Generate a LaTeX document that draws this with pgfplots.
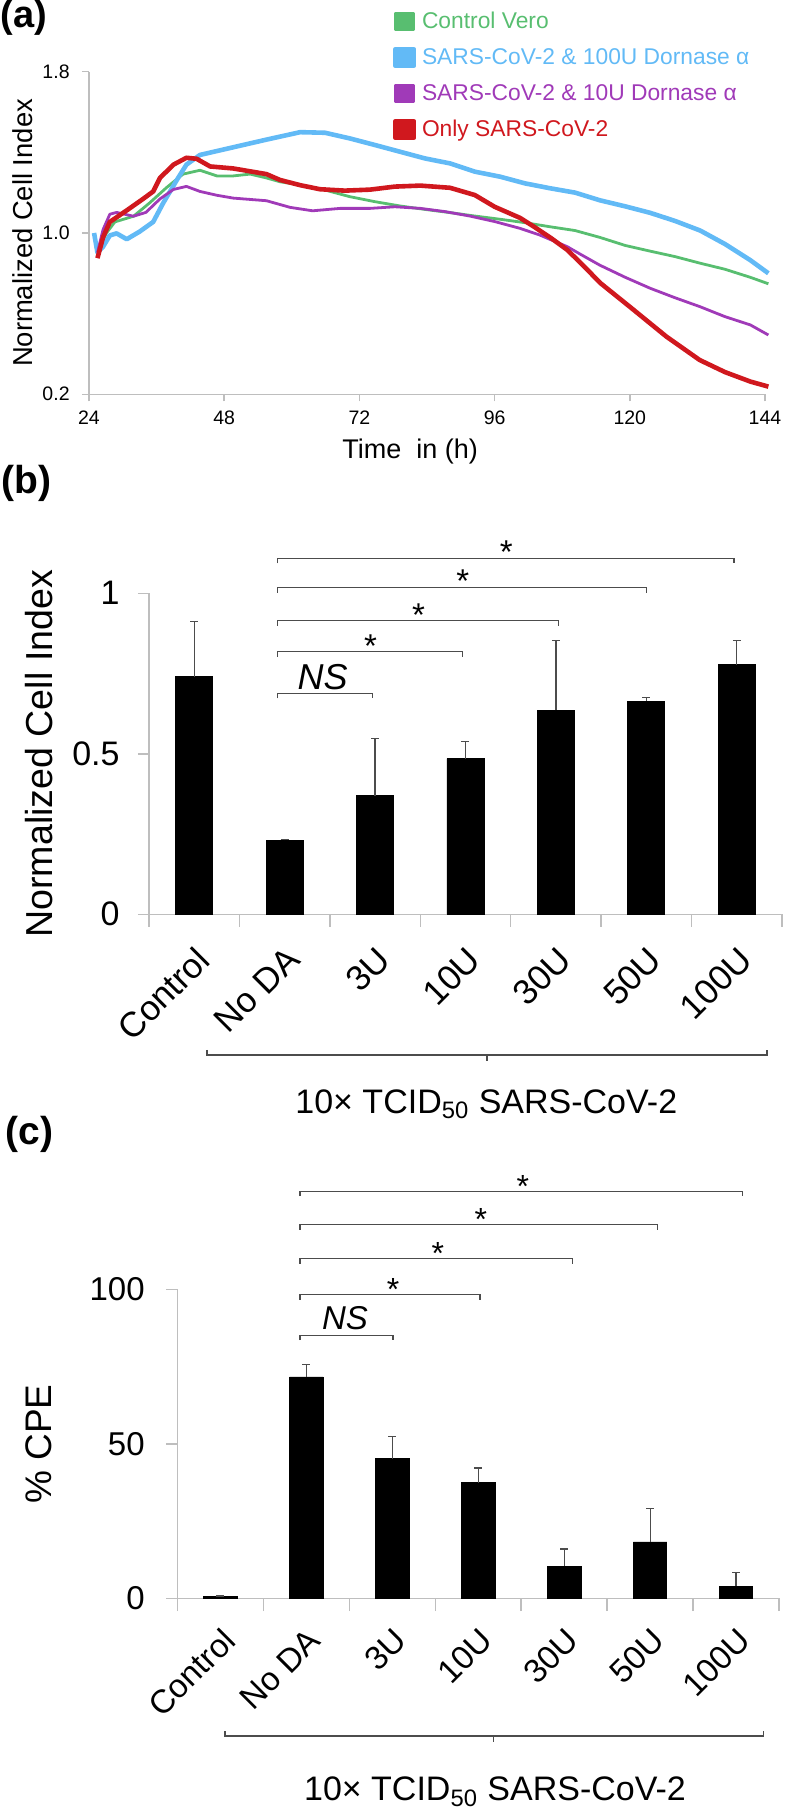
\documentclass[border=0pt]{standalone}
\usepackage{fontspec}
\setmainfont{Liberation Sans}
\usepackage{pgfplots}
\pgfplotsset{compat=1.18}

\definecolor{cgreen}{RGB}{88,190,112}
\definecolor{cblue}{RGB}{98,186,246}
\definecolor{cpurple}{RGB}{160,58,184}
\definecolor{cred}{RGB}{208,24,30}
\definecolor{axgray}{RGB}{190,190,190}

\newcommand{\fs}[1]{\fontsize{#1}{#1}\selectfont}
\newcommand{\lstrut}{\rule[-2.5pt]{0pt}{11pt}}

\pgfplotsset{
  base/.style={scale only axis, axis x line*=bottom, axis y line*=left,
    axis line style={axgray, line width=0.75pt},
    tick style={axgray, line width=0.75pt}, tick align=outside,
    /pgf/number format/assume math mode=true},
  bars/.style={base, clip=false, xmin=-0.5, xmax=6.5,
    xtick={0,...,6}, xticklabels={Control,No DA,3U,10U,30U,50U,100U},
    minor xtick={-0.5,0.5,...,6.5},
    major x tick style={draw=none},
    minor tick length=6.3pt, major tick length=5.6pt,
    xticklabel style={rotate=45, anchor=north east, inner sep=0pt},
    yticklabel style={anchor=east, inner sep=0pt},
    ylabel style={anchor=south, inner sep=0pt}},
}
\tikzset{brk/.style={draw=black!70, line width=0.7pt}}

\begin{document}
\begin{tikzpicture}
\path[use as bounding box] (0,0) rectangle (392pt,904pt);

% panel letters
\node[anchor=north west, inner sep=0pt, font=\fs{19}\bfseries] at (0pt,904pt) {(a)};
\node[anchor=west, inner sep=0pt, font=\fs{19.5}\bfseries] at (0.5pt,662.3pt) {(b)};
\node[anchor=west, inner sep=0pt, font=\fs{19.5}\bfseries] at (2.5pt,337pt) {(c)};

% (a) real-time cell index
\begin{axis}[base, at={(44.5pt,706.85pt)}, anchor=south west,
  width=338pt, height=161.3pt,
  xmin=24, xmax=144, ymin=0.2, ymax=1.8, clip=false,
  xtick={24,48,...,144}, ytick={0.2,1.0,1.8},
  major tick length=3.5pt,
  ticklabel style={font=\fs{9.75}},
  yticklabel={\pgfmathprintnumber[fixed,fixed zerofill,precision=1]{\tick}},
  yticklabel style={anchor=east, inner sep=0pt}, yticklabel shift=6pt,
  xticklabel style={anchor=north, inner sep=0pt}, xticklabel shift=4.5pt,
  xlabel={Time~ in (h)},
  xlabel style={at={(axis description cs:0.475,-0.2006)}, anchor=base, font=\fs{13.5}},
  ylabel={Normalized Cell Index},
  ylabel style={at={(axis description cs:-0.0828,0.5)}, anchor=south, inner sep=0pt, font=\fs{13.7}},
  legend style={draw=none, fill=none, at={(0.4497,1.1878)}, anchor=north west,
    inner sep=0pt, font=\fs{11.4}, row sep=7.6pt,
    nodes={inner sep=0pt},
    /tikz/every odd column/.append style={column sep=3pt}},
  legend cell align=left,
  legend image code/.code={\fill (0pt,-4.25pt) rectangle (9pt,4.25pt);},
]
\addplot[cgreen, line width=1.4pt, line join=round] coordinates {
(25.5,0.903) (27.1,1.0) (28.6,1.055) (31.9,1.083) (34.8,1.15) (37.8,1.226)
(40.7,1.292) (43.7,1.311) (46.7,1.283) (49.6,1.283) (52.6,1.292) (55.5,1.273)
(57.9,1.254) (61.5,1.238) (65.9,1.213) (70.3,1.18) (74.8,1.155) (79.2,1.134)
(83.6,1.117) (88.1,1.101) (92.5,1.084) (97,1.068) (101.4,1.051) (105.8,1.031)
(110.3,1.012) (114.7,0.978) (119.2,0.938) (123.6,0.91) (128,0.883)
(132.5,0.85) (136.9,0.82) (141.4,0.78) (144.6,0.748)};
\addlegendentry{\textcolor{cgreen}{Control Vero\lstrut}}
\addplot[cblue, line width=2.3pt, line join=round] coordinates {
(24.9,1.0) (25.5,0.903) (26.5,0.932) (27.7,0.988) (28.9,0.998) (30.7,0.969)
(33,1.007) (35.4,1.055) (37.2,1.15) (39.6,1.263) (41.3,1.339) (43.7,1.387)
(49.6,1.425) (55.5,1.463) (61.5,1.5) (65.9,1.497) (70.3,1.469) (74.8,1.436)
(79.2,1.403) (83.6,1.37) (88.1,1.345) (92.5,1.304) (97,1.279) (101.4,1.246)
(105.8,1.222) (110.3,1.2) (114.7,1.162) (119.2,1.132) (123.6,1.1)
(128,1.06) (132.5,1.012) (136.9,0.945) (141.4,0.865) (144.6,0.80)};
\addlegendentry{\textcolor{cblue}{SARS-CoV-2 \& 100U Dornase α\lstrut}}
\addplot[cpurple, line width=1.4pt, line join=round] coordinates {
(25.5,0.903) (26.5,1.017) (27.7,1.093) (28.9,1.102) (31.9,1.083) (34.1,1.102)
(36.6,1.169) (39,1.216) (41.3,1.231) (43.7,1.206) (46.7,1.187) (49.6,1.173)
(55.5,1.16) (59.7,1.127) (63.7,1.11) (68.6,1.122) (73.9,1.122) (78.3,1.13)
(82.8,1.122) (87.2,1.106) (91.6,1.084) (96.1,1.056) (100.5,1.023) (104,0.99)
(108.9,0.932) (111.2,0.895) (114.7,0.84) (119.2,0.78) (123.6,0.726)
(128,0.679) (132.5,0.634) (136.9,0.585) (141.4,0.544) (144.6,0.494)};
\addlegendentry{\textcolor{cpurple}{SARS-CoV-2 \& 10U Dornase α\lstrut}}
\addplot[cred, line width=2.3pt, line join=round] coordinates {
(25.5,0.875) (26.5,0.979) (27.7,1.055) (30.7,1.112) (33.6,1.169) (35.4,1.206)
(36.6,1.273) (39,1.339) (41.3,1.373) (43.1,1.368) (45.5,1.33) (49.6,1.32)
(55.5,1.292) (57.9,1.263) (61.5,1.237) (65,1.217) (69.4,1.21) (73.9,1.215)
(78.3,1.23) (82.8,1.235) (88.1,1.224) (92.5,1.188) (96,1.13) (100.5,1.075)
(103,1.031) (106,0.975) (108.9,0.916) (111.5,0.845) (114.8,0.751) (120,0.634)
(126.5,0.486) (132.4,0.37) (136.9,0.31) (141.4,0.263) (144.6,0.238)};
\addlegendentry{\textcolor{cred}{Only SARS-CoV-2\lstrut}}
\end{axis}

% (b) normalized cell index, bars
\begin{axis}[bars, at={(74.5pt,446.85pt)}, anchor=south west,
  width=316.5pt, height=160.5pt, ymin=0, ymax=1, ytick={0,0.5,1},
  yticklabel style={font=\fs{17}}, yticklabel shift=8.9pt,
  xticklabel style={font=\fs{17.5}}, xticklabel shift=9.4pt,
  ylabel={Normalized Cell Index},
  ylabel style={at={(axis description cs:-0.1517,0.5)}, font=\fs{18.8}},
]
\addplot[ybar, bar width=0.41, fill=black, draw=black,
  error bars/.cd, y dir=plus, y explicit,
  error bar style={black!70, line width=0.6pt},
  error mark options={rotate=90, black!70, mark size=2pt, line width=0.6pt}]
  coordinates {
  (0,0.740) +- (0,0.172)
  (1,0.231) +- (0,0.002)
  (2,0.369) +- (0,0.178)
  (3,0.485) +- (0,0.054)
  (4,0.636) +- (0,0.218)
  (5,0.664) +- (0,0.011)
  (6,0.777) +- (0,0.075)};
\draw[brk] (axis cs:0.921,0.688) ++(0pt,-2.5pt) -- (axis cs:0.921,0.688) -- (axis cs:1.97,0.688) -- ++(0pt,-2.5pt);
\draw[brk] (axis cs:0.921,0.818) ++(0pt,-2.5pt) -- (axis cs:0.921,0.818) -- (axis cs:2.967,0.818) -- ++(0pt,-2.5pt);
\draw[brk] (axis cs:0.921,0.915) ++(0pt,-2.5pt) -- (axis cs:0.921,0.915) -- (axis cs:4.03,0.915) -- ++(0pt,-2.5pt);
\draw[brk] (axis cs:0.921,1.018) ++(0pt,-2.5pt) -- (axis cs:0.921,1.018) -- (axis cs:5.0,1.018) -- ++(0pt,-2.5pt);
\draw[brk] (axis cs:0.921,1.109) ++(0pt,-2.5pt) -- (axis cs:0.921,1.109) -- (axis cs:5.97,1.109) -- ++(0pt,-2.5pt);
\node[anchor=base, inner sep=0pt, font=\fs{18}\itshape] at (axis cs:1.42,0.700) {NS};
\node[anchor=base, inner sep=0pt, font=\fs{16.5}] at (axis cs:1.95,0.801) {*};
\node[anchor=base, inner sep=0pt, font=\fs{16.5}] at (axis cs:2.48,0.898) {*};
\node[anchor=base, inner sep=0pt, font=\fs{16.5}] at (axis cs:2.97,1.001) {*};
\node[anchor=base, inner sep=0pt, font=\fs{16.5}] at (axis cs:3.45,1.092) {*};
\draw[brk] (axis cs:0.141,-0.438) ++(0pt,2.5pt) -- (axis cs:0.141,-0.438) -- (axis cs:6.334,-0.438) -- ++(0pt,2.5pt);
\draw[brk] (axis cs:3.238,-0.438) -- ++(0pt,-3pt);
\node[anchor=base, inner sep=0pt, font=\fs{17}] at (axis cs:3.23,-0.620) {10× TCID\textsubscript{50} SARS-CoV-2};
\end{axis}

% (c) percent CPE, bars
\begin{axis}[bars, at={(88.75pt,104.75pt)}, anchor=south west,
  width=300.75pt, height=154.5pt, ymin=0, ymax=100, ytick={0,50,100},
  yticklabel style={font=\fs{16.5}}, yticklabel shift=10.6pt,
  xticklabel style={font=\fs{16.5}}, xticklabel shift=8.15pt,
  ylabel={\% CPE},
  ylabel style={at={(axis description cs:-0.2087,0.5)}, font=\fs{18.5}},
]
\addplot[ybar, bar width=0.39, fill=black, draw=black,
  error bars/.cd, y dir=plus, y explicit,
  error bar style={black!70, line width=0.6pt},
  error mark options={rotate=90, black!70, mark size=2pt, line width=0.6pt}]
  coordinates {
  (0,0.8) +- (0,0)
  (1,71.7) +- (0,4.1)
  (2,45.2) +- (0,7.1)
  (3,37.5) +- (0,4.7)
  (4,10.5) +- (0,5.5)
  (5,18.3) +- (0,10.9)
  (6,4.0) +- (0,4.3)};
\draw[brk] (axis cs:0.926,85.2) ++(0pt,-2.5pt) -- (axis cs:0.926,85.2) -- (axis cs:2.008,85.2) -- ++(0pt,-2.5pt);
\draw[brk] (axis cs:0.926,98.3) ++(0pt,-2.5pt) -- (axis cs:0.926,98.3) -- (axis cs:3.02,98.3) -- ++(0pt,-2.5pt);
\draw[brk] (axis cs:0.926,110) ++(0pt,-2.5pt) -- (axis cs:0.926,110) -- (axis cs:4.097,110) -- ++(0pt,-2.5pt);
\draw[brk] (axis cs:0.926,121) ++(0pt,-2.5pt) -- (axis cs:0.926,121) -- (axis cs:5.086,121) -- ++(0pt,-2.5pt);
\draw[brk] (axis cs:0.926,131.8) ++(0pt,-2.5pt) -- (axis cs:0.926,131.8) -- (axis cs:6.075,131.8) -- ++(0pt,-2.5pt);
\node[anchor=base, inner sep=0pt, font=\fs{16.5}\itshape] at (axis cs:1.45,86.9) {NS};
\node[anchor=base, inner sep=0pt, font=\fs{16}] at (axis cs:2.01,96.4) {*};
\node[anchor=base, inner sep=0pt, font=\fs{16}] at (axis cs:2.53,108.1) {*};
\node[anchor=base, inner sep=0pt, font=\fs{16}] at (axis cs:3.03,119.1) {*};
\node[anchor=base, inner sep=0pt, font=\fs{16}] at (axis cs:3.52,129.9) {*};
\draw[brk] (axis cs:0.053,-44.5) ++(0pt,2.5pt) -- (axis cs:0.053,-44.5) -- (axis cs:6.32,-44.5) -- ++(0pt,2.5pt);
\draw[brk] (axis cs:3.18,-44.5) -- ++(0pt,-3pt);
\node[anchor=base, inner sep=0pt, font=\fs{17}] at (axis cs:3.195,-65.5) {10× TCID\textsubscript{50} SARS-CoV-2};
\end{axis}
\end{tikzpicture}
\end{document}
